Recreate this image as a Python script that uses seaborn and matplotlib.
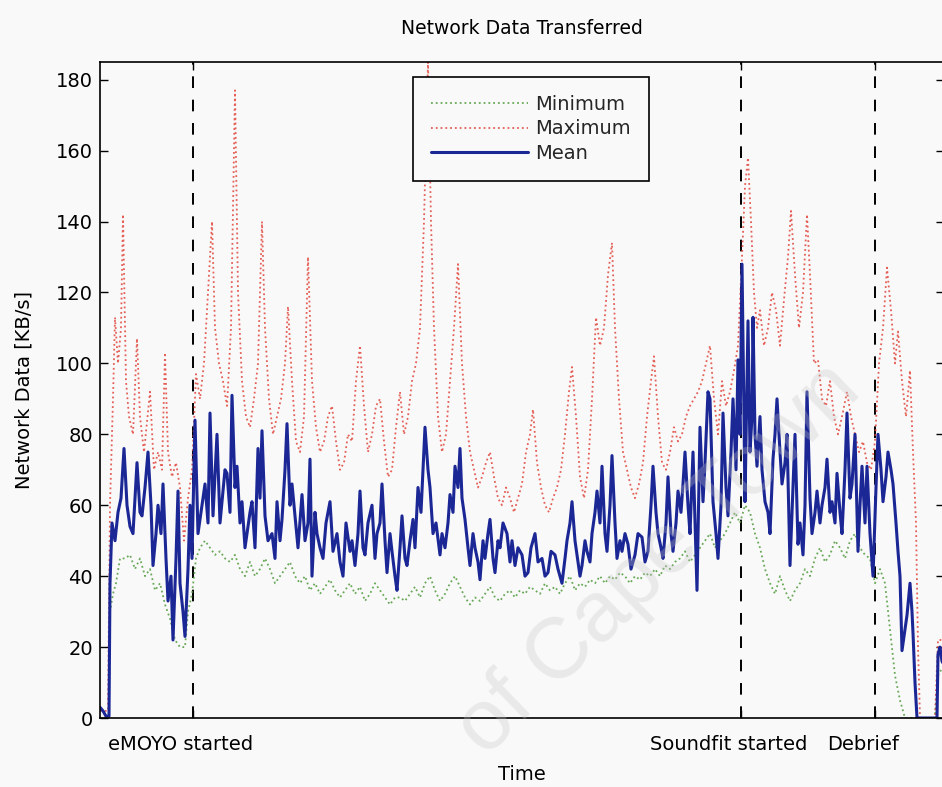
import pandas as pd
import matplotlib
matplotlib.use("Agg")
import matplotlib.pyplot as plt
import matplotlib.transforms as mtransforms
import seaborn as sns

# Time axis in samples, events marked with dashed lines
event_t = [93, 641, 775]
event_names = ["eMOYO started", "Soundfit started", "Debrief"]
y_ticks = [0, 20, 40, 60, 80, 100, 120, 140, 160, 180]
t_end = 844

mean_t = [0, 3, 6, 9, 10, 12, 15, 18, 21, 24, 27, 30, 33, 37, 40, 42, 45, 48, 51, 53,
          56, 58, 61, 63, 66, 68, 71, 73, 76, 78, 80, 83, 85, 88, 90, 92, 95, 98, 102, 105,
          108, 110, 113, 117, 120, 122, 125, 127, 130, 132, 135, 137, 140, 142, 145, 147, 150, 152, 155, 158,
          160, 162, 165, 168, 172, 175, 177, 180, 182, 185, 187, 190, 192, 195, 198, 202, 205, 208, 210, 212,
          215, 217, 220, 223, 226, 230, 233, 237, 240, 243, 246, 250, 252, 255, 258, 260, 263, 265, 268, 272,
          275, 277, 280, 282, 285, 287, 290, 292, 295, 297, 300, 302, 305, 307, 310, 313, 315, 318, 321, 325,
          328, 330, 333, 336, 340, 342, 345, 348, 350, 353, 355, 358, 360, 362, 365, 368, 370, 373, 375, 378,
          380, 383, 385, 388, 390, 393, 395, 398, 400, 403, 407, 410, 412, 415, 418, 422, 425, 428, 431, 435,
          438, 442, 445, 448, 451, 455, 458, 462, 465, 467, 470, 472, 475, 477, 480, 482, 485, 487, 490, 492,
          495, 497, 500, 502, 505, 507, 510, 512, 515, 517, 520, 522, 525, 528, 531, 535, 538, 542, 545, 548,
          551, 553, 556, 558, 561, 563, 566, 568, 571, 573, 576, 578, 581, 583, 585, 588, 590, 593, 595, 597,
          600, 603, 605, 608, 610, 613, 616, 618, 621, 623, 626, 628, 631, 633, 636, 638, 640, 642, 644, 645,
          647, 648, 650, 652, 653, 655, 657, 660, 662, 665, 668, 670, 673, 675, 677, 680, 682, 685, 687, 690,
          693, 695, 698, 700, 703, 705, 707, 710, 712, 715, 717, 720, 722, 725, 727, 730, 732, 735, 737, 740,
          742, 745, 747, 750, 752, 755, 758, 760, 762, 765, 767, 770, 773, 776, 778, 781, 783, 786, 788, 791,
          793, 796, 798, 800, 802, 805, 807, 810, 812, 813, 815, 817, 820, 825, 830, 835, 837, 838, 840, 842,
          844]
mean_v = [3, 2, 0.5, 0.5, 38, 55, 50, 58, 62, 76, 60, 54, 52, 72, 58, 57, 65, 75, 60, 43,
          52, 60, 52, 66, 45, 33, 40, 22, 45, 64, 38, 30, 23, 42, 60, 45, 84, 52, 60, 66,
          55, 86, 57, 80, 55, 61, 70, 69, 58, 91, 65, 71, 55, 61, 48, 52, 58, 61, 48, 76,
          62, 81, 57, 50, 52, 45, 61, 50, 56, 70, 83, 60, 66, 57, 48, 63, 50, 55, 73, 40,
          58, 52, 48, 45, 55, 61, 47, 52, 44, 40, 55, 47, 50, 43, 52, 64, 48, 46, 55, 60,
          45, 52, 55, 66, 50, 41, 52, 47, 40, 36, 48, 57, 45, 43, 50, 56, 48, 65, 58, 82,
          70, 65, 52, 55, 46, 52, 48, 55, 63, 58, 71, 65, 76, 62, 56, 48, 43, 52, 48, 44,
          39, 50, 45, 52, 56, 45, 41, 50, 48, 55, 52, 44, 50, 43, 48, 46, 40, 41, 48, 52,
          44, 45, 40, 41, 47, 46, 42, 38, 45, 50, 55, 61, 50, 46, 40, 43, 50, 47, 44, 52,
          58, 64, 55, 71, 52, 47, 60, 74, 55, 45, 50, 47, 52, 49, 42, 46, 52, 51, 44, 47,
          60, 71, 58, 52, 48, 45, 55, 68, 52, 47, 55, 64, 58, 66, 75, 60, 52, 75, 55, 36,
          82, 61, 72, 92, 90, 61, 52, 45, 60, 86, 65, 57, 75, 90, 70, 101, 80, 128, 85, 61,
          95, 112, 75, 85, 113, 80, 71, 85, 70, 61, 58, 52, 73, 80, 90, 75, 66, 72, 80, 43,
          65, 80, 49, 55, 46, 60, 92, 62, 52, 58, 64, 55, 60, 65, 73, 58, 61, 55, 69, 58,
          52, 70, 86, 62, 66, 80, 47, 60, 71, 55, 71, 52, 40, 65, 80, 70, 61, 68, 75, 70,
          66, 55, 47, 40, 19, 25, 29, 38, 30, 24, 10, 0, 0, 0, 0, 0, 0, 18, 20, 16,
          15]

max_t = [0, 8, 10, 13, 15, 18, 21, 23, 26, 29, 33, 37, 40, 44, 50, 54, 58, 62, 65, 68,
         72, 76, 80, 84, 88, 92, 96, 100, 104, 108, 112, 115, 119, 123, 127, 131, 135, 138, 142, 146,
         150, 154, 158, 162, 165, 169, 173, 177, 181, 185, 188, 192, 196, 200, 204, 208, 212, 216, 220, 224,
         228, 232, 236, 240, 244, 248, 252, 256, 260, 264, 268, 272, 276, 280, 284, 288, 292, 296, 300, 304,
         308, 312, 316, 320, 324, 328, 331, 334, 338, 342, 346, 350, 354, 358, 362, 366, 370, 374, 378, 382,
         386, 390, 394, 398, 402, 406, 410, 414, 418, 422, 426, 430, 433, 437, 441, 445, 449, 453, 457, 461,
         465, 469, 472, 476, 480, 484, 488, 492, 496, 500, 504, 508, 512, 515, 519, 523, 527, 531, 535, 539,
         543, 547, 551, 554, 558, 562, 566, 570, 574, 578, 582, 586, 590, 594, 598, 602, 606, 610, 614, 618,
         622, 626, 630, 634, 638, 642, 645, 648, 651, 654, 657, 660, 664, 668, 672, 676, 680, 684, 688, 691,
         695, 699, 703, 707, 710, 714, 718, 722, 726, 730, 734, 738, 742, 747, 751, 755, 759, 763, 767, 771,
         775, 779, 783, 787, 791, 795, 798, 802, 806, 810, 813, 816, 818, 820, 835, 838, 844]
max_v = [2, 2, 60, 90, 113, 100, 110, 142, 95, 85, 80, 107, 85, 75, 92, 70, 75, 70, 103, 75,
         68, 72, 65, 50, 62, 70, 97, 90, 100, 120, 140, 110, 100, 95, 88, 110, 177, 120, 95, 85,
         82, 90, 100, 140, 110, 90, 80, 85, 90, 100, 116, 95, 78, 75, 85, 130, 95, 82, 75, 78,
         85, 88, 78, 70, 72, 80, 78, 95, 105, 88, 75, 80, 88, 90, 78, 68, 70, 82, 92, 80,
         85, 95, 100, 110, 140, 185, 140, 110, 85, 75, 80, 95, 110, 128, 100, 85, 75, 70, 65, 68,
         72, 75, 68, 62, 60, 65, 62, 58, 62, 66, 75, 80, 87, 72, 65, 60, 58, 62, 65, 70,
         80, 92, 99, 85, 68, 62, 70, 90, 113, 105, 110, 125, 134, 110, 90, 75, 70, 65, 62, 66,
         72, 85, 95, 102, 85, 72, 70, 75, 82, 78, 80, 85, 88, 90, 92, 95, 100, 105, 90, 80,
         95, 88, 92, 98, 105, 130, 150, 158, 140, 120, 110, 115, 105, 110, 120, 115, 105, 118, 130, 143,
         125, 110, 120, 142, 125, 100, 101, 90, 88, 95, 85, 80, 85, 92, 85, 80, 75, 78, 72, 70,
         78, 100, 110, 127, 115, 100, 109, 95, 85, 98, 75, 55, 20, 0, 0, 22, 22]

min_t = [0, 9, 10, 13, 16, 20, 25, 30, 35, 40, 45, 50, 55, 60, 65, 70, 75, 80, 85, 88,
         92, 96, 100, 105, 110, 115, 120, 125, 130, 135, 140, 145, 150, 155, 160, 165, 170, 175, 180, 185,
         190, 195, 200, 205, 210, 215, 220, 225, 230, 235, 240, 245, 250, 255, 260, 265, 270, 275, 280, 285,
         290, 295, 300, 305, 310, 315, 320, 325, 330, 335, 340, 345, 350, 355, 360, 365, 370, 375, 380, 385,
         390, 395, 400, 405, 410, 415, 420, 425, 430, 435, 440, 445, 450, 455, 460, 465, 470, 475, 480, 485,
         490, 495, 500, 505, 510, 515, 520, 525, 530, 535, 540, 545, 550, 555, 560, 565, 570, 575, 580, 585,
         590, 595, 600, 605, 610, 615, 620, 625, 630, 635, 640, 645, 650, 655, 660, 665, 670, 675, 680, 685,
         690, 695, 700, 705, 710, 715, 720, 725, 730, 735, 740, 745, 750, 755, 760, 765, 770, 775, 780, 785,
         790, 795, 800, 805, 835, 838, 844]
min_v = [0, 0, 30, 35, 38, 45, 45, 46, 42, 45, 40, 42, 36, 38, 32, 28, 22, 20, 20, 30,
         35, 45, 48, 50, 48, 46, 47, 45, 44, 46, 42, 40, 44, 40, 42, 45, 42, 38, 40, 42,
         44, 40, 38, 40, 36, 38, 35, 37, 39, 36, 34, 36, 38, 35, 37, 33, 35, 38, 36, 34,
         32, 34, 34, 33, 35, 37, 34, 38, 40, 36, 33, 35, 38, 40, 37, 34, 32, 34, 33, 35,
         37, 34, 33, 35, 36, 34, 36, 35, 37, 36, 35, 38, 36, 37, 35, 38, 40, 36, 38, 37,
         39, 38, 40, 38, 40, 39, 41, 40, 38, 40, 39, 41, 40, 42, 40, 43, 42, 44, 45, 47,
         44, 46, 48, 50, 52, 48, 50, 52, 55, 58, 55, 60, 58, 52, 48, 42, 38, 35, 40, 36,
         33, 36, 38, 42, 40, 45, 48, 44, 46, 50, 48, 45, 50, 52, 48, 46, 45, 38, 42, 38,
         25, 12, 5, 0, 0, 12, 15]

df_min = pd.DataFrame({"t": min_t, "v": min_v})
df_max = pd.DataFrame({"t": max_t, "v": max_v})
df_mean = pd.DataFrame({"t": mean_t, "v": mean_v})

sns.set_theme(style="white")
plt.rcParams["font.family"] = ["DejaVu Sans"]
bg = "#f9f9f9"

fig = plt.figure(figsize=(9.42, 7.87), dpi=100, facecolor=bg)
ax = fig.add_axes([100 / 942, 1 - 718 / 787, 844 / 942, 656 / 787])
ax.set_facecolor(bg)

sns.lineplot(data=df_min, x="t", y="v", ax=ax, color="#4f9a3c", linestyle=":",
             linewidth=1.3, alpha=0.85, label="Minimum", estimator=None, sort=False)
sns.lineplot(data=df_max, x="t", y="v", ax=ax, color="#e0443a", linestyle=":",
             linewidth=1.3, alpha=0.85, label="Maximum", estimator=None, sort=False)
sns.lineplot(data=df_mean, x="t", y="v", ax=ax, color="#1c2796", linestyle="-",
             linewidth=2.2, label="Mean", estimator=None, sort=False)

for t in event_t:
    ax.axvline(t, color="black", linestyle=(0, (6, 6)), linewidth=1.4, zorder=1)

ax.set_xlim(0, t_end)
ax.set_ylim(0, 185)
ax.set_yticks(y_ticks)
ax.set_xticks(event_t)
ax.set_xticklabels(event_names)

ax.tick_params(axis="both", direction="in", length=6, width=1, colors="black",
               labelsize=14, top=True, right=True, bottom=True, left=True)
ax.tick_params(axis="x", pad=12)
ax.tick_params(axis="y", pad=5)
for s in ax.spines.values():
    s.set_visible(True)
    s.set_color("black")
    s.set_linewidth(1.2)

# tick labels sit a little left of the event lines in the original
offset = mtransforms.ScaledTranslation(-12 / 100, 0, fig.dpi_scale_trans)
for lab in ax.get_xticklabels():
    lab.set_transform(lab.get_transform() + offset)

ax.set_title("Network Data Transferred", fontsize=13.5, pad=20, color="black")
ax.set_xlabel("Time", fontsize=14, labelpad=8, color="black")
ax.set_ylabel("Network Data [KB/s]", fontsize=14, labelpad=16, color="black")

ax.legend(loc="upper left", bbox_to_anchor=(0.371, 0.977), frameon=True, fancybox=False,
          edgecolor="black", facecolor=bg, framealpha=1, fontsize=14, handlelength=5,
          handletextpad=0.4, labelspacing=0.3, borderpad=0.9, borderaxespad=0)
ax.get_legend().get_frame().set_linewidth(1.2)

# faint watermark of the scanned thesis page
fig.text(0.70, 1 - 560 / 787, "of Cape Town", rotation=44, fontsize=62, color="#c4c4c4",
         alpha=0.3, ha="center", va="center", family="Liberation Sans", zorder=10)

fig.savefig("out.png", dpi=100, facecolor=bg)
